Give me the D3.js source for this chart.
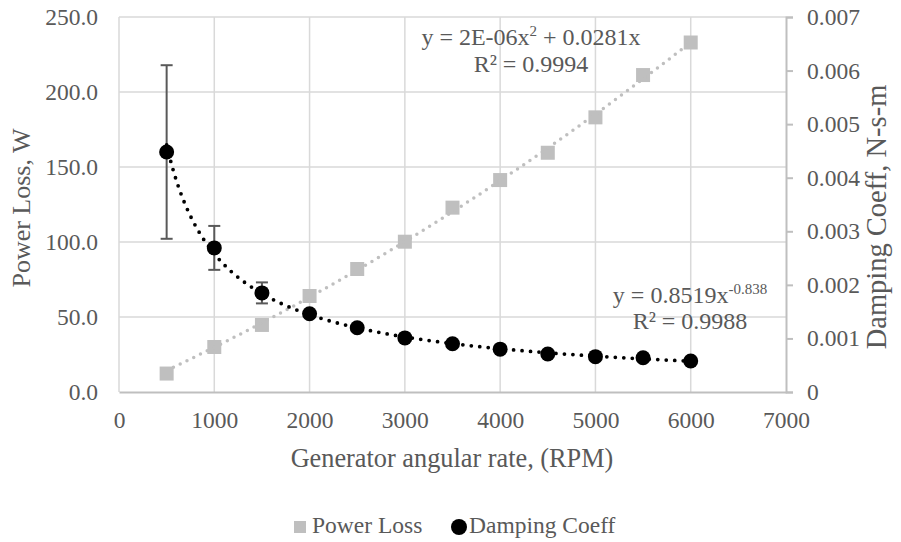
<!DOCTYPE html>
<html><head><meta charset="utf-8">
<script src="https://cdn.jsdelivr.net/npm/d3@7"></script>
<style>
html,body{margin:0;padding:0;background:#fff;}
</style></head>
<body><svg id="c" width="901" height="542"></svg>
<script>
const rpm = [500,1000,1500,2000,2500,3000,3500,4000,4500,5000,5500,6000];
const powerLoss = [12.3,30.0,44.7,64.0,82.0,100.2,122.9,141.3,159.5,183.1,211.3,233.0];
const damping = [0.00448,0.00269,0.00185,0.00146,0.00120,0.00101,0.00090,0.00080,0.00071,0.00066,0.00064,0.00058];
const dampingErr = [0.00162,0.00041,0.000196,0,0,0,0,0,0,0,0,0];
const xTicks = [0,1000,2000,3000,4000,5000,6000,7000];
const yLTicks = [0,50,100,150,200,250];
const yRTicks = [0,0.001,0.002,0.003,0.004,0.005,0.006,0.007];
const seriesNames = ["Power Loss","Damping Coeff"];

// pick an installed serif face
function pickFont(){
  const cands = ["Liberation Serif","Times New Roman","Tinos","DejaVu Serif","Noto Serif","Times","Georgia"];
  const cv = document.createElement("canvas").getContext("2d");
  const sample = "Power Loss, W 0123456789 Damping Coeff";
  const w = f => { cv.font = "40px " + f; return cv.measureText(sample).width; };
  const wm = w("monospace"), ws = w("sans-serif");
  for (const c of cands){
    const a = w(`"${c}", monospace`), b = w(`"${c}", sans-serif`);
    if (Math.abs(a-wm)>0.5 || Math.abs(b-ws)>0.5) return `"${c}", serif`;
  }
  return "serif";
}
const FONT = pickFont();

const svg = d3.select("#c");
const x = d3.scaleLinear().domain([0,7000]).range([119,786]);
const yL = d3.scaleLinear().domain([0,250]).range([392,17]);
const yR = d3.scaleLinear().domain([0,0.007]).range([392,17]);

// gridlines
const grid = svg.append("g");
grid.selectAll("line.h").data(yLTicks.filter(d=>d>0)).join("line")
  .attr("x1",x(0)).attr("x2",x(7000)).attr("y1",d=>yL(d)).attr("y2",d=>yL(d))
  .attr("stroke","#d9d9d9").attr("stroke-width",1.5);
grid.selectAll("line.v").data(xTicks.filter(d=>d<7000)).join("line")
  .attr("x1",d=>x(d)).attr("x2",d=>x(d)).attr("y1",yL(250)).attr("y2",yL(0))
  .attr("stroke","#d9d9d9").attr("stroke-width",1.5);

// bottom axis
const xAxis = d3.axisBottom(x).tickValues(xTicks).tickSize(0).tickPadding(22).tickFormat(d3.format("d"));
const gx = svg.append("g").attr("transform",`translate(0,${yL(0)})`).call(xAxis);
gx.select(".domain").attr("stroke","#bfbfbf").attr("stroke-width",2);
gx.selectAll("text").style("font-size","23.5px").attr("dy","0.6em");

// left axis
const yAxisL = d3.axisLeft(yL).tickValues(yLTicks).tickSize(0).tickPadding(21).tickFormat(d3.format(".1f"));
const gl = svg.append("g").attr("transform",`translate(${x(0)},0)`).call(yAxisL);
gl.select(".domain").remove();
gl.selectAll("text").style("font-size","23.5px");

// right axis
const yAxisR = d3.axisRight(yR).tickValues(yRTicks).tickSize(7).tickPadding(14)
  .tickFormat(d=> d===0 ? "0" : d3.format(".3f")(d));
const gr = svg.append("g").attr("transform",`translate(${x(7000)},0)`).call(yAxisR);
gr.select(".domain").attr("stroke","#bfbfbf").attr("stroke-width",2);
gr.selectAll(".tick line").attr("stroke","#bfbfbf").attr("stroke-width",2);
gr.selectAll("text").style("font-size","23.5px");

// fits (least squares from data)
let s4=0,s3=0,s2=0,sx2y=0,sxy=0;
rpm.forEach((v,i)=>{s4+=v**4;s3+=v**3;s2+=v**2;sx2y+=v*v*powerLoss[i];sxy+=v*powerLoss[i];});
const det = s4*s2 - s3*s3;
const qa = (sx2y*s2 - s3*sxy)/det, qb = (s4*sxy - s3*sx2y)/det;
const lx = rpm.map(Math.log), ly = damping.map(Math.log);
const mx = d3.mean(lx), my = d3.mean(ly);
const pk = d3.sum(lx.map((v,i)=>(v-mx)*(ly[i]-my)))/d3.sum(lx.map(v=>(v-mx)**2));
const pc = Math.exp(my - pk*mx);
const fitX = d3.range(rpm[0], rpm[rpm.length-1]+1, 25);

// power loss markers
svg.append("g").selectAll("rect").data(rpm).join("rect")
  .attr("x",(d)=>x(d)-7).attr("y",(d,i)=>yL(powerLoss[i])-7)
  .attr("width",14).attr("height",14).attr("fill","#bfbfbf");
// power loss trendline
svg.append("path").datum(fitX)
  .attr("d",d3.line().x(d=>x(d)).y(d=>yL(qa*d*d+qb*d)))
  .attr("fill","none").attr("stroke","#bfbfbf").attr("stroke-width",3.5)
  .attr("stroke-linecap","round").attr("stroke-dasharray","0,7.5");

// error bars
const eb = svg.append("g").attr("stroke","#595959").attr("stroke-width",2);
rpm.forEach((v,i)=>{
  const e = dampingErr[i];
  if(!e) return;
  eb.append("line").attr("x1",x(v)).attr("x2",x(v)).attr("y1",yR(damping[i]+e)).attr("y2",yR(damping[i]-e));
  eb.append("line").attr("x1",x(v)-6).attr("x2",x(v)+6).attr("y1",yR(damping[i]+e)).attr("y2",yR(damping[i]+e));
  eb.append("line").attr("x1",x(v)-6).attr("x2",x(v)+6).attr("y1",yR(damping[i]-e)).attr("y2",yR(damping[i]-e));
});
// damping markers
svg.append("g").selectAll("circle").data(rpm).join("circle")
  .attr("cx",d=>x(d)).attr("cy",(d,i)=>yR(damping[i])).attr("r",7.5).attr("fill","#000");
// damping trendline
svg.append("path").datum(fitX)
  .attr("d",d3.line().x(d=>x(d)).y(d=>yR(pc*Math.pow(d,pk))))
  .attr("fill","none").attr("stroke","#000").attr("stroke-width",3.8)
  .attr("stroke-linecap","round").attr("stroke-dasharray","0,8.5");

// equations
const eq1 = svg.append("text").attr("x",531).attr("y",45).attr("text-anchor","middle").style("font-size","24px");
eq1.append("tspan").text("y = 2E-06x");
eq1.append("tspan").attr("dy",-9).style("font-size","15px").text("2");
eq1.append("tspan").attr("dy",9).text(" + 0.0281x");
svg.append("text").attr("x",531).attr("y",72).attr("text-anchor","middle").style("font-size","24px").text("R² = 0.9994");
const eq2 = svg.append("text").attr("x",690).attr("y",303).attr("text-anchor","middle").style("font-size","24px");
eq2.append("tspan").text("y = 0.8519x");
eq2.append("tspan").attr("dy",-9).style("font-size","15px").text("-0.838");
svg.append("text").attr("x",690).attr("y",329).attr("text-anchor","middle").style("font-size","24px").text("R² = 0.9988");

// axis titles
svg.append("text").attr("x",452).attr("y",467).attr("text-anchor","middle").style("font-size","26.3px").text("Generator angular rate, (RPM)");
svg.append("text").attr("transform","translate(30,208) rotate(-90)").attr("text-anchor","middle").style("font-size","26px").text("Power Loss, W");
svg.append("text").attr("transform","translate(886,217) rotate(-90)").attr("text-anchor","middle").style("font-size","28.5px").text("Damping Coeff, N-s-m");

// legend
const lg = svg.append("g");
lg.append("rect").attr("x",294).attr("y",521).attr("width",12).attr("height",12).attr("fill","#bfbfbf");
lg.append("text").attr("x",312).attr("y",533).style("font-size","23.5px").text(seriesNames[0]);
lg.append("circle").attr("cx",459).attr("cy",527).attr("r",8).attr("fill","#000");
lg.append("text").attr("x",469).attr("y",533).style("font-size","23.5px").text(seriesNames[1]);

svg.selectAll("g").attr("font-family",null);
svg.selectAll("text").attr("font-family",FONT).style("font-family",FONT).attr("fill","#595959");
</script></body></html>
